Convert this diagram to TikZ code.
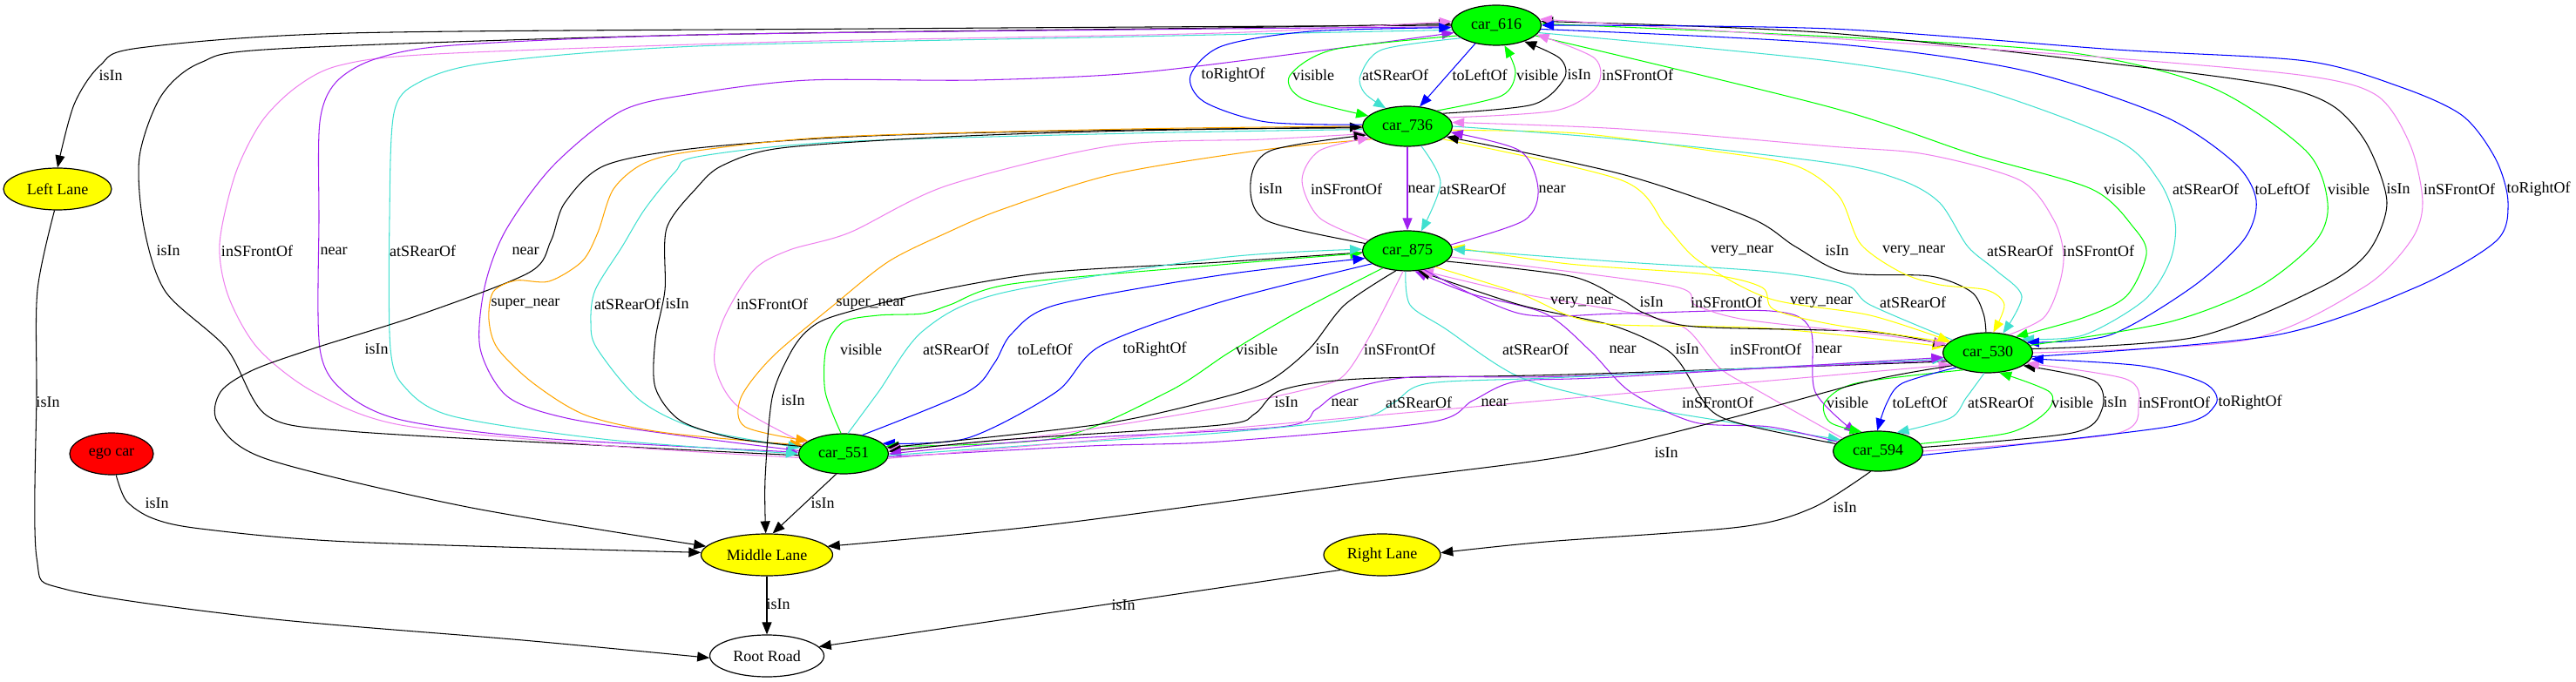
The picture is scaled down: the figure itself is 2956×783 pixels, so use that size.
\documentclass[tikz,border=0pt]{standalone}
\usepackage{fontspec}
\setmainfont{Liberation Serif}
\usetikzlibrary{shapes.geometric,arrows.meta}

\definecolor{gvgreen}{HTML}{00FF00}
\definecolor{gvyellow}{HTML}{FFFF00}
\definecolor{gvred}{HTML}{FF0000}
\definecolor{gvblue}{HTML}{0000FF}
\definecolor{gvviolet}{HTML}{EE82EE}
\definecolor{gvturq}{HTML}{40E0D0}
\definecolor{gvpurple}{HTML}{A020F0}
\definecolor{gvorange}{HTML}{FFA500}

\tikzset{
  car/.style = {draw, ellipse, line width=1.2pt, fill=gvgreen, minimum width=103pt, minimum height=46pt, inner sep=0pt},
  lane/.style = {draw, ellipse, line width=1.2pt, fill=gvyellow, minimum height=48pt, inner sep=0pt},
  lbl/.style = {inner sep=0pt},
  rel/.style = {line width=1.05pt, -{Triangle[length=14pt,width=11pt]}},
  relIsIn/.style = {rel, draw=black},
  relFront/.style = {rel, draw=gvviolet},
  relRear/.style = {rel, draw=gvturq},
  relNear/.style = {rel, draw=gvpurple},
  relLeft/.style = {rel, draw=gvblue},
  relRight/.style = {rel, draw=gvblue},
  relVisible/.style = {rel, draw=gvgreen},
  relVeryNear/.style = {rel, draw=gvyellow},
  relSuperNear/.style = {rel, draw=gvorange}
}

\begin{document}
\begin{tikzpicture}[x=1pt, y=-1pt, font=\fontsize{18}{20}\selectfont]
\useasboundingbox (0,0) rectangle (2956,783);

% nodes
\node[car] (c616) at (1717,29) {car\_616};
\node[car] (c736) at (1615,145) {car\_736};
\node[car] (c875) at (1615,288) {car\_875};
\node[car] (c530) at (2281,405) {car\_530};
\node[car] (c551) at (968,521) {car\_551};
\node[car] (c594) at (2155,518) {car\_594};
\node[lane, minimum width=124pt] (leftlane) at (66,217) {Left Lane};
\node[draw, ellipse, line width=1.2pt, fill=gvred, minimum width=96pt, minimum height=48pt, inner sep=0pt] (egocar) at (128,521) {ego car};
\node[lane, minimum width=151pt] (midlane) at (880,637) {Middle Lane};
\node[lane, minimum width=134pt] (rightlane) at (1586,637) {Right Lane};
\node[draw, ellipse, line width=1.2pt, minimum width=131pt, minimum height=48pt, inner sep=0pt] (rootroad) at (880,753) {Root Road};

% car_616 <-> Left Lane, car_551
\draw[relIsIn] plot[smooth] coordinates {(c616.180) (1000,33) (400,38) (160,55) (115,75) (85,120) (leftlane.north)};
\draw[relIsIn] plot[smooth] coordinates {(c551.182) (700,512) (400,495) (306,477) (260,400) (190,335) (165,260) (160,180) (185,110) (230,72) (320,56) (800,40) (1400,32) (c616.178)};
\draw[relFront] plot[smooth] coordinates {(c551.185) (700,512) (460,488) (360,450) (296,400) (262,340) (252,280) (270,200) (300,140) (340,100) (390,75) (500,62) (900,48) (1400,38) (c616.175)};
\draw[relNear] plot[smooth] coordinates {(c616.182) (1300,34) (800,40) (520,52) (430,68) (385,95) (367,140) (366,250) (367,400) (395,450) (460,482) (620,503) (c551.178)};
\draw[relRear] plot[smooth] coordinates {(c616.186) (1300,42) (800,53) (560,72) (480,95) (452,130) (447,250) (448,400) (465,445) (520,478) (700,505) (c551.180)};
\draw[relNear] plot[smooth] coordinates {(c551.176) (780,500) (650,480) (582,455) (551,400) (556,330) (580,265) (635,190) (714,127) (800,107) (928,92) (1120,92) (1300,84) (1500,60) (c616.190)};

% car_736 <-> Middle Lane, car_551
\draw[relIsIn] plot[smooth] coordinates {(c736.182) (1300,149) (1000,156) (800,170) (694,190) (648,233) (632,277) (607,313) (480,362) (360,400) (290,425) (253,450) (250,485) (306,527) (536,582) (midlane.172)};
\draw[relSuperNear] plot[smooth] coordinates {(c736.180) (1300,148) (960,157) (800,173) (740,187) (704,217) (686,267) (668,300) (630,323) (592,322) (566,335) (561,367) (571,400) (612,440) (673,477) (765,497) (c551.168)};
\draw[relRear] plot[smooth] coordinates {(c736.184) (1300,153) (960,163) (800,180) (775,197) (740,240) (714,283) (683,333) (678,370) (685,400) (735,460) (803,493) (c551.172)};
\draw[relIsIn] plot[smooth] coordinates {(c551.170) (842,503) (781,483) (752,445) (752,390) (763,333) (765,262) (800,215) (829,190) (896,170) (1087,157) (1300,150) (c736.181)};
\draw[relFront] plot[smooth] coordinates {(c551.165) (845,465) (820,417) (830,367) (865,310) (906,287) (975,267) (1087,213) (1278,167) (1450,160) (c736.190)};
\draw[relSuperNear] plot[smooth] coordinates {(c736.200) (1450,172) (1278,200) (1151,240) (1087,267) (1020,300) (957,350) (886,410) (850,457) (855,490) (c551.160)};

% car_875 <-> Middle Lane, car_551
\draw[relIsIn] plot[smooth] coordinates {(c875.182) (1400,301) (1200,313) (1059,337) (957,363) (926,380) (906,407) (886,457) (878,550) (midlane.93)};
\draw[relVisible] plot[smooth] coordinates {(c551.97) (947,450) (948,400) (967,370) (1008,362) (1059,360) (1090,350) (1161,326) (1400,304) (c875.183)};
\draw[relRear] plot[smooth] coordinates {(c551.78) (1008,450) (1059,380) (1147,337) (1400,296) (c875.178)};
\draw[relLeft] plot[smooth] coordinates {(c551.45) (1110,450) (1141,417) (1161,383) (1212,350) (1400,316) (c875.190)};
\draw[relRight] plot[smooth] coordinates {(c875.200) (1400,347) (1263,397) (1212,450) (1110,503) (c551.15)};
\draw[relVisible] plot[smooth] coordinates {(c875.215) (1486,360) (1410,405) (1340,450) (1212,503) (c551.10)};
\draw[relIsIn] plot[smooth] coordinates {(c875.240) (1543,350) (1503,400) (1457,437) (1400,457) (1263,487) (c551.8)};
\draw[relFront] plot[smooth] coordinates {(c875.258) (1575,380) (1545,428) (1515,443) (1400,468) (1200,500) (c551.5)};

% car_875 <-> car_594
\draw[relRear] plot[smooth] coordinates {(c875.265) (1618,350) (1658,377) (1744,433) (1859,463) (1974,483) (c594.163)};
\draw[relNear] plot[smooth] coordinates {(c594.167) (2031,490) (1945,485) (1871,450) (1825,403) (1773,360) (1687,337) (c875.290)};
\draw[relIsIn] plot[smooth] coordinates {(c594.170) (2003,488) (1962,470) (1928,417) (1905,397) (1848,373) (1744,350) (c875.298)};
\draw[relFront] plot[smooth] coordinates {(c594.160) (2020,450) (1974,423) (1934,377) (1876,360) (1744,337) (c875.305)};
\draw[relNear] plot[smooth] coordinates {(c875.312) (1744,360) (1859,360) (2031,357) (2077,377) (2083,450) (c594.140)};

% car_875 <-> car_530
\draw[relVeryNear] plot[smooth] coordinates {(c875.330) (1744,337) (1802,363) (1859,373) (2031,377) (c530.172)};
\draw[relIsIn] plot[smooth] coordinates {(c875.345) (1802,317) (1859,343) (1888,360) (1945,375) (2146,381) (c530.170)};
\draw[relFront] plot[smooth] coordinates {(c875.352) (1917,328) (1945,350) (2003,367) (2146,383) (c530.168)};
\draw[relVeryNear] plot[smooth] coordinates {(c530.165) (2100,372) (2035,355) (2022,330) (1960,315) (1800,303) (c875.5)};
\draw[relRear] plot[smooth] coordinates {(c530.160) (2146,350) (2118,327) (2031,312) (1850,300) (c875.2)};

% car_736 <-> car_530
\draw[relVeryNear] plot[smooth] coordinates {(c736.340) (1861,207) (1912,260) (1950,300) (2031,343) (2146,362) (c530.163)};
\draw[relIsIn] plot[smooth] coordinates {(c530.95) (2276,360) (2262,335) (2215,317) (2118,313) (2060,283) (2008,250) (1861,200) (c736.345)};
\draw[relVeryNear] plot[smooth] coordinates {(c736.355) (1810,153) (1963,173) (2060,190) (2110,225) (2135,280) (2182,313) (2226,327) (2280,333) (2300,350) (c530.75)};
\draw[relRear] plot[smooth] coordinates {(c736.0) (1861,160) (2100,187) (2182,207) (2226,233) (2258,283) (2290,310) (2320,340) (c530.52)};
\draw[relFront] plot[smooth] coordinates {(c530.40) (2345,365) (2362,330) (2368,293) (2357,253) (2318,207) (2209,177) (2100,168) (1861,148) (c736.5)};

% car_616 <-> car_530
\draw[relVisible] plot[smooth] coordinates {(c616.345) (2100,123) (2264,177) (2400,217) (2449,262) (2463,292) (2440,340) (2390,365) (c530.30)};
\draw[relRear] plot[smooth] coordinates {(c616.350) (2100,70) (2264,100) (2428,160) (2477,207) (2496,255) (2490,300) (2460,345) (2390,385) (c530.22)};
\draw[relLeft] plot[smooth] coordinates {(c616.355) (2100,50) (2318,80) (2482,133) (2564,187) (2589,230) (2575,275) (2515,330) (2420,385) (c530.15)};
\draw[relVisible] plot[smooth] coordinates {(c530.10) (2488,370) (2591,330) (2657,277) (2671,233) (2646,173) (2537,100) (2373,60) (2100,42) (c616.2)};
\draw[relIsIn] plot[smooth] coordinates {(c530.5) (2520,387) (2662,330) (2717,290) (2739,233) (2717,167) (2679,123) (2619,100) (2482,80) (2100,38) (c616.5)};
\draw[relFront] plot[smooth] coordinates {(c530.0) (2580,390) (2712,330) (2766,277) (2780,233) (2766,167) (2728,110) (2646,87) (2428,67) (2100,44) (c616.8)};
\draw[relRight] plot[smooth] coordinates {(c530.355) (2610,385) (2772,330) (2864,277) (2878,233) (2864,183) (2826,133) (2755,100) (2646,70) (2428,57) (2100,33) (c616.0)};

% car_616 <-> car_736
\draw[relLeft] (c616.221) -- (c736.58);
\draw[relVisible] plot[smooth] coordinates {(c616.195) (1530,57) (1480,87) (1494,113) (c736.165)};
\draw[relRear] plot[smooth] coordinates {(c616.200) (1586,57) (1561,87) (1566,107) (c736.140)};
\draw[relRight] plot[smooth] coordinates {(c736.178) (1453,140) (1382,117) (1366,87) (1402,53) (1504,36) (c616.183)};
\draw[relVisible] plot[smooth] coordinates {(c736.28) (1723,110) (1739,83) (c616.292)};
\draw[relIsIn] plot[smooth] coordinates {(c736.20) (1759,120) (1795,90) (1790,67) (c616.330)};
\draw[relFront] plot[smooth] coordinates {(c736.12) (1785,127) (1832,100) (1830,67) (c616.347)};

% car_736 <-> car_875
\draw[relIsIn] plot[smooth] coordinates {(c875.170) (1453,253) (1435,210) (1458,173) (c736.192)};
\draw[relFront] plot[smooth] coordinates {(c875.165) (1514,250) (1494,207) (1514,173) (c736.197)};
\draw[relNear] (c736.270) -- (c875.90);
\draw[relRear] plot[smooth] coordinates {(c736.305) (1653,210) (c875.55)};
\draw[relNear] plot[smooth] coordinates {(c875.8) (1749,253) (1765,217) (1744,173) (c736.352)};

% car_530 <-> car_551
\draw[relIsIn] plot[smooth] coordinates {(c530.192) (1800,430) (1560,435) (1470,448) (1440,475) (1400,488) (1150,505) (c551.3)};
\draw[relNear] plot[smooth] coordinates {(c530.190) (1800,432) (1620,433) (1540,450) (1510,470) (1470,490) (1200,505) (c551.0)};
\draw[relRear] plot[smooth] coordinates {(c551.358) (1200,510) (1400,497) (1560,480) (1600,462) (1640,440) (1800,433) (c530.188)};
\draw[relNear] plot[smooth] coordinates {(c551.356) (1250,512) (1400,507) (1640,485) (1690,460) (1740,438) (1850,433) (c530.186)};
\draw[relFront] (c551.354) -- (c530.198);

% car_530 <-> car_594
\draw[relVisible] plot[smooth] coordinates {(c530.215) (2130,440) (2094,462) (2100,485) (c594.130)};
\draw[relLeft] plot[smooth] coordinates {(c530.205) (2183,440) (2165,463) (c594.92)};
\draw[relRear] plot[smooth] coordinates {(c530.260) (2256,457) (2238,480) (c594.45)};
\draw[relVisible] plot[smooth] coordinates {(c594.10) (2305,497) (2348,473) (2352,450) (c530.300)};
\draw[relIsIn] plot[smooth] coordinates {(c594.5) (2378,497) (2412,470) (2403,437) (c530.340)};
\draw[relFront] plot[smooth] coordinates {(c594.0) (2427,498) (2454,463) (2439,435) (c530.345)};
\draw[relRight] plot[smooth] coordinates {(c594.355) (2488,490) (2542,465) (2530,440) (2457,420) (c530.352)};

% lanes and road
\draw[relIsIn] plot[smooth] coordinates {(c530.200) (2146,437) (1974,483) (1802,523) (1583,552) (1200,603) (midlane.8)};
\draw[relIsIn] plot[smooth] coordinates {(c594.250) (2080,583) (1997,605) (1774,622) (rightlane.2)};
\draw[relIsIn] (c551.250) -- (midlane.75);
\draw[relIsIn] plot[smooth] coordinates {(egocar.282) (145,575) (175,595) (230,607) (400,622) (midlane.178)};
\draw[relIsIn] plot[smooth] coordinates {(leftlane.262) (43,333) (42,450) (42,640) (77,677) (306,710) (600,735) (rootroad.182)};
\draw[relIsIn] (midlane) -- (rootroad);
\draw[relIsIn] (rightlane.200) -- (rootroad.10);

% labels
\node[lbl] (l01) at (127,87) {isIn};
\node[lbl] (l02) at (193,288) {isIn};
\node[lbl] (l03) at (295,288) {inSFrontOf};
\node[lbl] (l04) at (383,288) {near};
\node[lbl] (l05) at (485,288) {atSRearOf};
\node[lbl] (l06) at (603,288) {near};
\node[lbl] (l07) at (432,401) {isIn};
\node[lbl] (l08) at (603,349) {super\_near};
\node[lbl] (l09) at (720,349) {atSRearOf};
\node[lbl] (l10) at (777,349) {isIn};
\node[lbl] (l11) at (886,349) {inSFrontOf};
\node[lbl] (l12) at (999,349) {super\_near};
\node[lbl] (l13) at (910,460) {isIn};
\node[lbl] (l14) at (988,401) {visible};
\node[lbl] (l15) at (1097,401) {atSRearOf};
\node[lbl] (l16) at (1199,401) {toLeftOf};
\node[lbl] (l17) at (1325,401) {toRightOf};
\node[lbl] (l18) at (1442,401) {visible};
\node[lbl] (l19) at (1523,401) {isIn};
\node[lbl] (l20) at (1606,401) {inSFrontOf};
\node[lbl] (l21) at (1762,401) {atSRearOf};
\node[lbl] (l22) at (1862,401) {near};
\node[lbl] (l23) at (1936,401) {isIn};
\node[lbl] (l24) at (2026,401) {inSFrontOf};
\node[lbl] (l25) at (2098,401) {near};
\node[lbl] (l26) at (1815,347) {very\_near};
\node[lbl] (l27) at (1895,347) {isIn};
\node[lbl] (l28) at (1981,347) {inSFrontOf};
\node[lbl] (l29) at (2090,347) {very\_near};
\node[lbl] (l30) at (2195,347) {atSRearOf};
\node[lbl] (l31) at (1999,288) {very\_near};
\node[lbl] (l32) at (2108,288) {isIn};
\node[lbl] (l33) at (2196,288) {very\_near};
\node[lbl] (l34) at (2318,288) {atSRearOf};
\node[lbl] (l35) at (2408,288) {inSFrontOf};
\node[lbl] (l36) at (2438,217) {visible};
\node[lbl] (l37) at (2531,217) {atSRearOf};
\node[lbl] (l38) at (2619,217) {toLeftOf};
\node[lbl] (l39) at (2695,217) {visible};
\node[lbl] (l40) at (2752,217) {isIn};
\node[lbl] (l41) at (2822,217) {inSFrontOf};
\node[lbl] (l42) at (2913,217) {toRightOf};
\node[lbl] (l43) at (1698,86) {toLeftOf};
\node[lbl] (l44) at (1507,86) {visible};
\node[lbl] (l45) at (1601,86) {atSRearOf};
\node[lbl] (l46) at (1415,86) {toRightOf};
\node[lbl] (l47) at (1764,86) {visible};
\node[lbl] (l48) at (1812,86) {isIn};
\node[lbl] (l49) at (1879,86) {inSFrontOf};
\node[lbl] (l50) at (1458,217) {isIn};
\node[lbl] (l51) at (1545,217) {inSFrontOf};
\node[lbl] (l52) at (1631,217) {near};
\node[lbl] (l53) at (1690,217) {atSRearOf};
\node[lbl] (l54) at (1781,217) {near};
\node[lbl] (l55) at (1476,462) {isIn};
\node[lbl] (l56) at (1543,462) {near};
\node[lbl] (l57) at (1628,462) {atSRearOf};
\node[lbl] (l58) at (1715,462) {near};
\node[lbl] (l59) at (1971,462) {inSFrontOf};
\node[lbl] (l60) at (2120,462) {visible};
\node[lbl] (l61) at (2203,462) {toLeftOf};
\node[lbl] (l62) at (2296,462) {atSRearOf};
\node[lbl] (l63) at (2378,462) {visible};
\node[lbl] (l64) at (2427,462) {isIn};
\node[lbl] (l65) at (2495,462) {inSFrontOf};
\node[lbl] (l66) at (2582,462) {toRightOf};
\node[lbl] (l67) at (1912,520) {isIn};
\node[lbl] (l68) at (2117,583) {isIn};
\node[lbl] (l69) at (944,578) {isIn};
\node[lbl] (l70) at (180,578) {isIn};
\node[lbl] (l71) at (55,462) {isIn};
\node[lbl] (l72) at (893,694) {isIn};
\node[lbl] (l73) at (1289,695) {isIn};
\end{tikzpicture}
\end{document}
